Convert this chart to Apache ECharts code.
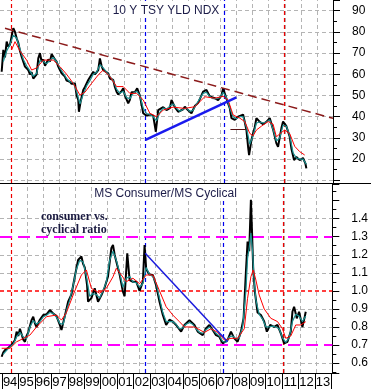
<!DOCTYPE html>
<html><head><meta charset="utf-8">
<script src="https://cdn.jsdelivr.net/npm/echarts@6/dist/echarts.min.js"></script>
<style>html,body{margin:0;padding:0;background:#fff}#c{width:371px;height:389px}</style>
</head><body><div id="c"></div>
<script>
// ---------- data ----------
const yearLabels = ['94','95','96','97','98','99','00','01','02','03','04','05','06','07','08','09','10','11','12','13'];
const yldTicks = [10,20,30,40,50,60,70,80,90];
const ratioTicks = [0.6,0.7,0.8,0.9,1.0,1.1,1.2,1.3,1.4];

const yldPrice = [[1994.10,61.2],[1994.20,71.5],[1994.30,68],[1994.40,75.4],[1994.50,73],[1994.60,74],[1994.70,78],[1994.80,81.8],[1994.90,80],[1995.00,77],[1995.10,74.8],[1995.20,71],[1995.30,68.3],[1995.40,66],[1995.50,63.6],[1995.60,64.5],[1995.70,62],[1995.80,60],[1995.90,61],[1996.00,58],[1996.10,57.3],[1996.20,60],[1996.30,67.5],[1996.40,70],[1996.50,66],[1996.60,67],[1996.70,64],[1996.80,64.4],[1996.90,67],[1997.00,66],[1997.10,69.5],[1997.20,69],[1997.30,67],[1997.40,66],[1997.50,63.6],[1997.60,62],[1997.70,60.5],[1997.80,60],[1997.90,58.9],[1998.00,57],[1998.10,57.5],[1998.20,56.5],[1998.30,55.5],[1998.40,56],[1998.50,55.7],[1998.60,50],[1998.70,47.9],[1998.74,42.3],[1998.84,47],[1999.00,52.6],[1999.10,54],[1999.30,57.3],[1999.40,57],[1999.60,61.2],[1999.70,60],[1999.90,62],[2000.00,67.5],[2000.10,64],[2000.20,62],[2000.30,61.5],[2000.50,60.5],[2000.60,58],[2000.80,57.3],[2000.90,54],[2001.00,51.8],[2001.10,50.5],[2001.20,50.2],[2001.30,52],[2001.40,53.4],[2001.50,50],[2001.70,46.3],[2001.80,48],[2001.90,51.5],[2002.10,51.5],[2002.24,53.4],[2002.40,50],[2002.50,46],[2002.60,41.6],[2002.80,40.5],[2003.00,41],[2003.20,40.5],[2003.36,32.9],[2003.50,43.1],[2003.60,42.5],[2003.80,44.5],[2004.00,43.1],[2004.20,44],[2004.30,47.9],[2004.50,44.5],[2004.70,42.3],[2004.80,42.8],[2005.00,43.5],[2005.10,44.7],[2005.30,43],[2005.50,41.6],[2005.70,45],[2005.90,46.5],[2006.20,51.8],[2006.40,52.6],[2006.60,49.5],[2006.90,48.7],[2007.10,47.8],[2007.30,50],[2007.40,53.4],[2007.60,48.5],[2007.80,44],[2007.90,39.3],[2008.10,38.5],[2008.30,40],[2008.60,41],[2008.70,37.5],[2008.80,33.7],[2008.90,25.8],[2008.96,21.9],[2009.10,29],[2009.30,35],[2009.40,39.3],[2009.60,37.5],[2009.80,36.5],[2010.00,37.5],[2010.20,39.3],[2010.40,34],[2010.60,27.4],[2010.70,25.8],[2010.90,34.5],[2011.00,37.7],[2011.20,35.5],[2011.40,30.5],[2011.50,25],[2011.66,19.5],[2011.80,21],[2012.00,19.5],[2012.20,20.5],[2012.34,18],[2012.40,15.6]];
const yldFast = [[1994.2,66],[1994.4,71],[1994.6,74],[1994.8,78.5],[1995.0,77],[1995.2,72],[1995.4,67],[1995.6,64],[1995.8,61.5],[1996.0,59],[1996.2,60.5],[1996.4,66.5],[1996.6,66],[1996.8,65],[1997.0,66.5],[1997.2,68],[1997.4,66],[1997.6,63],[1997.8,60.5],[1998.0,58],[1998.2,56.5],[1998.4,56],[1998.6,52],[1998.8,46],[1999.0,50.5],[1999.2,54.5],[1999.4,57],[1999.6,60],[1999.8,61],[2000.0,64.5],[2000.2,63],[2000.4,61],[2000.6,59],[2000.8,57],[2001.0,53],[2001.2,51],[2001.4,52],[2001.6,49],[2001.8,48.5],[2002.0,51],[2002.2,52],[2002.4,50],[2002.6,44],[2002.8,41.5],[2003.0,41],[2003.2,40],[2003.4,38],[2003.6,42],[2003.8,44],[2004.0,43.5],[2004.2,45],[2004.4,46],[2004.6,44],[2004.8,42.5],[2005.0,43.5],[2005.2,44],[2005.4,42.5],[2005.6,43],[2005.8,46],[2006.0,48.5],[2006.2,51],[2006.4,51.5],[2006.6,49.5],[2006.8,48.5],[2007.0,48.5],[2007.2,49],[2007.4,51.5],[2007.6,49],[2007.8,44],[2008.0,40],[2008.2,39],[2008.4,40],[2008.6,40],[2008.8,35],[2009.0,27],[2009.2,31],[2009.4,37],[2009.6,37.5],[2009.8,37],[2010.0,37.5],[2010.2,38.5],[2010.4,34],[2010.6,28.5],[2010.8,30],[2011.0,36],[2011.2,35.5],[2011.4,31],[2011.6,23],[2011.8,20.5],[2012.0,20],[2012.2,20],[2012.4,17.5]];
const yldSlow = [[1994.70,71.5],[1994.90,75.4],[1995.20,71],[1995.60,66.7],[1995.90,62],[1996.20,63],[1996.60,66.7],[1996.90,66.7],[1997.20,66.7],[1997.60,63.6],[1998.00,60],[1998.40,55.7],[1998.80,50.2],[1999.10,51.5],[1999.50,55.7],[1999.90,59.7],[2000.20,62],[2000.60,59],[2001.00,54.2],[2001.40,54.2],[2001.80,51],[2002.20,51],[2002.60,47.9],[2003.00,41.6],[2003.40,40],[2003.80,43.1],[2004.40,44.5],[2005.10,43.9],[2005.70,44.7],[2006.30,49.4],[2006.90,48.7],[2007.40,49.6],[2007.70,47.9],[2008.00,40.8],[2008.40,39.3],[2008.70,37.7],[2009.00,32.1],[2009.20,31],[2009.40,33.7],[2009.70,35.5],[2010.10,37.7],[2010.40,36.5],[2010.60,30.5],[2010.90,32.5],[2011.10,33.7],[2011.40,32],[2011.70,26],[2012.00,23.5],[2012.30,21.9]];

const ratioPrice = [[1994.10,0.635],[1994.20,0.66],[1994.30,0.672],[1994.40,0.665],[1994.50,0.685],[1994.70,0.70],[1994.80,0.71],[1994.90,0.728],[1995.00,0.774],[1995.10,0.75],[1995.20,0.79],[1995.30,0.76],[1995.40,0.73],[1995.50,0.718],[1995.60,0.75],[1995.70,0.77],[1995.90,0.838],[1996.00,0.857],[1996.10,0.82],[1996.20,0.80],[1996.40,0.84],[1996.60,0.866],[1996.80,0.87],[1997.00,0.894],[1997.20,0.875],[1997.40,0.86],[1997.60,0.811],[1997.70,0.783],[1997.90,0.86],[1998.10,0.94],[1998.30,0.98],[1998.50,1.078],[1998.70,1.171],[1998.90,1.19],[1999.00,1.15],[1999.10,1.13],[1999.24,1.032],[1999.30,0.94],[1999.50,0.96],[1999.70,1.014],[1999.90,0.94],[2000.10,0.975],[2000.30,1.02],[2000.50,1.08],[2000.70,1.236],[2000.80,1.254],[2000.90,1.20],[2001.00,1.162],[2001.20,1.09],[2001.40,0.995],[2001.50,0.97],[2001.66,1.208],[2001.80,1.06],[2002.00,1.05],[2002.20,1.051],[2002.40,1.00],[2002.60,1.051],[2002.70,1.254],[2002.80,1.12],[2003.00,1.09],[2003.20,1.088],[2003.40,1.03],[2003.60,0.94],[2003.80,0.866],[2004.00,0.811],[2004.20,0.84],[2004.40,0.83],[2004.60,0.811],[2004.90,0.774],[2005.10,0.811],[2005.40,0.838],[2005.70,0.811],[2005.90,0.774],[2006.20,0.755],[2006.40,0.792],[2006.60,0.811],[2006.80,0.783],[2007.00,0.755],[2007.20,0.746],[2007.40,0.709],[2007.50,0.70],[2007.70,0.728],[2007.90,0.774],[2008.10,0.737],[2008.30,0.718],[2008.50,0.774],[2008.66,0.848],[2008.80,1.106],[2008.90,1.273],[2009.00,1.22],[2009.10,1.504],[2009.16,1.347],[2009.24,1.12],[2009.34,0.995],[2009.50,0.88],[2009.70,0.866],[2009.90,0.83],[2010.06,0.774],[2010.26,0.811],[2010.50,0.80],[2010.70,0.811],[2010.90,0.765],[2011.10,0.709],[2011.30,0.718],[2011.50,0.774],[2011.60,0.884],[2011.70,0.912],[2011.86,0.848],[2012.00,0.884],[2012.20,0.80],[2012.34,0.857],[2012.40,0.884]];
const ratioFast = [[1994.2,0.65],[1994.4,0.67],[1994.6,0.69],[1994.8,0.705],[1995.0,0.745],[1995.2,0.77],[1995.4,0.745],[1995.6,0.735],[1995.8,0.80],[1996.0,0.835],[1996.2,0.815],[1996.4,0.83],[1996.6,0.855],[1996.8,0.865],[1997.0,0.88],[1997.2,0.875],[1997.4,0.855],[1997.6,0.82],[1997.8,0.815],[1998.0,0.89],[1998.2,0.95],[1998.4,1.03],[1998.6,1.12],[1998.8,1.17],[1999.0,1.16],[1999.2,1.08],[1999.4,0.97],[1999.6,0.985],[1999.8,0.98],[2000.0,0.96],[2000.2,1.0],[2000.4,1.05],[2000.6,1.17],[2000.8,1.22],[2001.0,1.17],[2001.2,1.1],[2001.4,1.02],[2001.6,1.07],[2001.8,1.08],[2002.0,1.05],[2002.2,1.045],[2002.4,1.02],[2002.6,1.04],[2002.8,1.13],[2003.0,1.09],[2003.2,1.08],[2003.4,1.04],[2003.6,0.96],[2003.8,0.88],[2004.0,0.83],[2004.2,0.83],[2004.4,0.83],[2004.6,0.815],[2004.8,0.79],[2005.0,0.795],[2005.2,0.815],[2005.4,0.825],[2005.6,0.815],[2005.8,0.79],[2006.0,0.77],[2006.2,0.765],[2006.4,0.785],[2006.6,0.80],[2006.8,0.785],[2007.0,0.765],[2007.2,0.75],[2007.4,0.72],[2007.6,0.715],[2007.8,0.745],[2008.0,0.75],[2008.2,0.735],[2008.4,0.74],[2008.6,0.80],[2008.8,1.0],[2008.9,1.18],[2009.0,1.24],[2009.1,1.32],[2009.2,1.22],[2009.3,1.05],[2009.4,0.95],[2009.6,0.87],[2009.8,0.845],[2010.0,0.80],[2010.2,0.80],[2010.4,0.805],[2010.6,0.80],[2010.8,0.79],[2011.0,0.74],[2011.2,0.715],[2011.4,0.74],[2011.6,0.83],[2011.8,0.87],[2012.0,0.86],[2012.2,0.83],[2012.4,0.86]];
const ratioSlow = [[1994.10,0.682],[1994.60,0.682],[1995.00,0.718],[1995.40,0.736],[1995.80,0.755],[1996.20,0.80],[1996.80,0.857],[1997.40,0.866],[1997.70,0.838],[1998.00,0.88],[1998.40,0.977],[1998.90,1.088],[1999.20,1.116],[1999.50,1.014],[2000.00,0.987],[2000.40,1.014],[2000.80,1.078],[2001.00,1.125],[2001.30,1.088],[2001.60,1.051],[2002.00,1.07],[2002.40,1.04],[2002.80,1.088],[2003.20,1.088],[2003.60,1.0],[2004.00,0.912],[2004.40,0.866],[2004.80,0.829],[2005.10,0.80],[2005.70,0.80],[2006.30,0.77],[2006.70,0.79],[2007.10,0.77],[2007.50,0.728],[2007.90,0.737],[2008.30,0.737],[2008.70,0.79],[2008.90,0.959],[2009.10,1.078],[2009.24,1.116],[2009.40,1.06],[2009.60,0.977],[2009.90,0.90],[2010.30,0.848],[2010.70,0.83],[2011.00,0.79],[2011.20,0.737],[2011.50,0.75],[2011.80,0.811],[2012.10,0.811],[2012.40,0.829]];

const redMarkerYears = [1994.70, 2011.06];
const blueMarkerYears = [2002.74, 2007.46];
const yldResistance = [[1994.3,81.7],[2014.0,39.2]];
const yldSupport = [[2002.74,29.0],[2008.2,49.1]];
const yldShelf = [[2007.84,34.2],[2008.8,34.2]];
const ratioDowntrend = [[2002.74,1.208],[2007.7,0.718]];
const ratioPinkLevels = [1.3, 0.7];
const ratioRedLevels = [1.0];

// ---------- layout / styles ----------
const X0 = 1994, X1 = 2014;
const TOP = [8.7, 95.05], BOT = [0.545, 1.592];
const vGridStart = 1994.672, vGridStep = 0.9666;
const FONT = '"Liberation Sans", Arial, sans-serif';
const grey = {color:'#b4b4b4', width:1, type:[4,3], opacity:1};

function seg(a, b, style){ return {coords:[a,b], lineStyle:Object.assign({opacity:1}, style)}; }
function linesSeries(idx, data, z){
  return {type:'lines', coordinateSystem:'cartesian2d', xAxisIndex:idx, yAxisIndex:idx,
          data, z, silent:true, polyline:false, animation:false, effect:{show:false},
          lineStyle:{opacity:1}};
}
function gridLines(idx, ext, hVals, skip){
  const d = [];
  hVals.filter(v => !skip.some(s => Math.abs(s-v) < 1e-9)).forEach(v => d.push(seg([X0,v],[X1,v],grey)));
  for (let k=0;k<20;k++){ const t = vGridStart + vGridStep*k; d.push(seg([t,ext[0]],[t,ext[1]],grey)); }
  return linesSeries(idx, d, 1);
}
function markerLines(idx, ext){
  const d = [];
  redMarkerYears.forEach(t => d.push(seg([t,ext[0]],[t,ext[1]],{color:'#ee0000',width:1.2,type:[4,3]})));
  blueMarkerYears.forEach(t => d.push(seg([t,ext[0]],[t,ext[1]],{color:'#0000ee',width:1.2,type:[4,3]})));
  return d;
}
function priceLine(idx, data, color, width, z){
  return {type:'line', xAxisIndex:idx, yAxisIndex:idx, data, symbol:'none', showSymbol:false,
          lineStyle:{color, width}, z, silent:true, animation:false, clip:true};
}

const topMarkers = markerLines(0, TOP);
const botMarkers = markerLines(1, BOT);
ratioPinkLevels.forEach(v => botMarkers.push(seg([X0,v],[X1,v],{color:'#ff00ff',width:2,type:[12,6]})));
ratioRedLevels.forEach(v => botMarkers.push(seg([X0,v],[X1,v],{color:'#ff0000',width:1.5,type:[4,3]})));

const topTrends = [
  seg(yldResistance[0], yldResistance[1], {color:'#8b1a1a', width:1.5, type:[9,5]}),
  seg(yldSupport[0], yldSupport[1], {color:'#1a1aee', width:2.5}),
  seg(yldShelf[0], yldShelf[1], {color:'#5a1010', width:1})
];
const botTrends = [ seg(ratioDowntrend[0], ratioDowntrend[1], {color:'#1a1add', width:1.5}) ];

function valAxisY(idx, ext, fmt){
  return {type:'value', gridIndex:idx, position:'right', min:ext[0], max:ext[1],
    minInterval: idx===0?10:0.1, maxInterval: idx===0?10:0.1,
    axisLine:{show:true, lineStyle:{color:'#000', width:1}},
    axisTick:{show:true, length:7, inside:false, lineStyle:{color:'#000'}},
    minorTick:{show:true, splitNumber:2, length:4, lineStyle:{color:'#000'}},
    splitLine:{show:false}, minorSplitLine:{show:false},
    axisLabel:{show:true, margin:19, color:'#000', fontSize:12, fontFamily:FONT, formatter:fmt}};
}

const chart = echarts.init(document.getElementById('c'), null, {renderer:'canvas'});
chart.setOption({
  animation:false,
  backgroundColor:'#fff',
  grid:[
    {left:0, top:0, width:333, height:183},
    {left:0, top:184, width:333, height:189},
    {left:-2.5, top:372, width:333.8, height:1}
  ],
  xAxis:[
    {type:'value', gridIndex:0, min:X0, max:X1, show:false},
    {type:'value', gridIndex:1, min:X0, max:X1, axisLine:{show:true, onZero:false, lineStyle:{color:'#000',width:1}},
     axisTick:{show:false}, axisLabel:{show:false}, splitLine:{show:false}},
    {type:'category', gridIndex:2, data:yearLabels, boundaryGap:true, position:'bottom',
     axisLine:{show:false}, axisTick:{show:true, length:16, interval:0, alignWithLabel:false, lineStyle:{color:'#000'}},
     axisLabel:{show:true, interval:0, margin:3, color:'#000', fontSize:13, fontFamily:FONT}, splitLine:{show:false}}
  ],
  yAxis:[
    valAxisY(0, TOP, v => (yldTicks.indexOf(Math.round(v*100)/100) >= 1) ? String(Math.round(v)) : ''),
    valAxisY(1, BOT, v => (ratioTicks.some(t => Math.abs(t-v) < 1e-6)) ? v.toFixed(1) : ''),
    {type:'value', gridIndex:2, show:false}
  ],
  series:[
    gridLines(0, TOP, yldTicks, []),
    gridLines(1, BOT, ratioTicks, ratioPinkLevels.concat(ratioRedLevels)),
    linesSeries(0, topMarkers, 2),
    linesSeries(1, botMarkers, 2),
    priceLine(0, yldPrice, '#000000', 2, 3),
    priceLine(0, yldFast, '#1a9090', 1.2, 4),
    priceLine(0, yldSlow, '#ff0000', 1, 5),
    priceLine(1, ratioPrice, '#000000', 2, 3),
    priceLine(1, ratioFast, '#1a9090', 1.2, 4),
    priceLine(1, ratioSlow, '#ff0000', 1, 5),
    linesSeries(0, topTrends, 6),
    linesSeries(1, botTrends, 6)
  ],
  graphic:[
    {type:'line', shape:{x1:0, y1:183.5, x2:371, y2:183.5}, style:{stroke:'#000', lineWidth:1}, z:100},
    {type:'text', x:166, y:11, z:100, style:{text:'10 Y TSY YLD NDX', font:'12px '+FONT, fill:'#1c1c48',
      align:'center', verticalAlign:'middle', backgroundColor:'#fff', padding:[1,2]}},
    {type:'text', x:165.5, y:193.5, z:100, style:{text:'MS Consumer/MS Cyclical', font:'12px '+FONT, fill:'#1c1c48',
      align:'center', verticalAlign:'middle', backgroundColor:'#fff', padding:[1,2]}},
    {type:'text', x:41, y:210.5, z:100, style:{text:'consumer vs.\ncyclical ratio', font:'bold 12px "Liberation Serif", "Times New Roman", serif',
      fill:'#1a1a40', align:'left', verticalAlign:'top', lineHeight:13}}
  ]
});
</script></body></html>
